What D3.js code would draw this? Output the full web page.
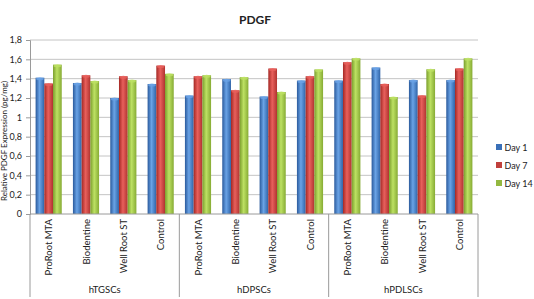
<!DOCTYPE html>
<html lang="en">
<head>
<meta charset="utf-8">
<title>PDGF</title>
<script src="https://d3js.org/d3.v7.min.js"></script>
<style>
  body { margin: 0; background: #fff; }
  text { font-family: Lato, "Open Sans", sans-serif; fill: #222; }
</style>
</head>
<body>
<script>
// data
var groups = ["hTGSCs", "hDPSCs", "hPDLSCs"];
var materials = ["ProRoot MTA", "Biodentine", "Well Root ST", "Control"];
var series = ["Day 1", "Day 7", "Day 14"];
var day1  = [1.41, 1.355, 1.20, 1.345,  1.225, 1.395, 1.215, 1.38,  1.38, 1.515, 1.385, 1.385];
var day7  = [1.35, 1.435, 1.425, 1.535, 1.425, 1.28, 1.505, 1.425,  1.57, 1.345, 1.225, 1.505];
var day14 = [1.545, 1.375, 1.385, 1.45, 1.435, 1.415, 1.262, 1.495, 1.61, 1.21, 1.497, 1.61];
var yTicks = [0, 0.2, 0.4, 0.6, 0.8, 1, 1.2, 1.4, 1.6, 1.8];

var W = 534, H = 299;
var pLeft = 30, pRight = 478, pTop = 40, pBottom = 214;

var svg = d3.select("body").append("svg")
  .attr("width", W).attr("height", H);

var cats = [];
groups.forEach(function(g) {
  materials.forEach(function(m) { cats.push(g + "|" + m); });
});
var rows = cats.map(function(c, i) {
  return { cat: c, vals: [day1[i], day7[i], day14[i]] };
});

var x0 = d3.scaleBand().domain(cats).range([pLeft, pRight]).paddingInner(0.3).paddingOuter(0.15);
var x1 = d3.scaleBand().domain(series).range([0, x0.bandwidth()]);
var y = d3.scaleLinear().domain([0, 1.8]).range([pBottom, pTop]);

// gradients for the cylinder-ish look
var colors = [
  ["#2a5a9c", "#6aa3e6", "#2f64a8"],
  ["#a42824", "#e8605c", "#b03330"],
  ["#7a9e2c", "#bde163", "#86ab34"]
];
var defs = svg.append("defs");
colors.forEach(function(c, i) {
  var g = defs.append("linearGradient").attr("id", "g" + i)
    .attr("x1", "0%").attr("x2", "100%").attr("y1", "0%").attr("y2", "0%");
  g.append("stop").attr("offset", "0%").attr("stop-color", c[0]);
  g.append("stop").attr("offset", "45%").attr("stop-color", c[1]);
  g.append("stop").attr("offset", "100%").attr("stop-color", c[2]);
});

// gridlines
svg.append("g")
  .selectAll("line").data(yTicks.slice(1)).enter().append("line")
  .attr("x1", pLeft).attr("x2", pRight)
  .attr("y1", function(d) { return y(d); }).attr("y2", function(d) { return y(d); })
  .attr("stroke", "#c4c4c4").attr("stroke-width", 1);

// y axis
var yAxis = svg.append("g")
  .attr("transform", "translate(" + pLeft + ",0)")
  .call(d3.axisLeft(y).tickValues(yTicks).tickSize(4).tickPadding(4)
    .tickFormat(function(d) { return String(d).replace(".", ","); }));
yAxis.select(".domain").attr("stroke", "#9a9a9a");
yAxis.selectAll(".tick line").attr("stroke", "#9a9a9a");
yAxis.selectAll("text").style("font-size", "9px").attr("fill", "#333");

svg.append("text")
  .attr("transform", "translate(6.5,141) rotate(-90)")
  .attr("text-anchor", "middle")
  .style("font-size", "8px")
  .text("Relative PDGF Expression (pg/mg)");

// bars
var bars = svg.append("g").selectAll("g").data(rows).enter().append("g")
  .attr("transform", function(d) { return "translate(" + x0(d.cat) + ",0)"; });
bars.selectAll("rect").data(function(d) { return d.vals; }).enter().append("rect")
  .attr("x", function(d, i) { return x1(series[i]); })
  .attr("y", function(d) { return y(d); })
  .attr("width", x1.bandwidth())
  .attr("height", function(d) { return y(0) - y(d); })
  .attr("fill", function(d, i) { return "url(#g" + i + ")"; });
// light caps on top
bars.selectAll("ellipse").data(function(d) { return d.vals; }).enter().append("ellipse")
  .attr("cx", function(d, i) { return x1(series[i]) + x1.bandwidth() / 2; })
  .attr("cy", function(d) { return y(d) + 1; })
  .attr("rx", x1.bandwidth() / 2 - 0.5).attr("ry", 1.5)
  .attr("fill", function(d, i) { return colors[i][1]; }).attr("opacity", 0.8);

// x axis
svg.append("line").attr("x1", pLeft).attr("x2", pRight)
  .attr("y1", pBottom).attr("y2", pBottom).attr("stroke", "#9a9a9a");

var step = (pRight - pLeft) / cats.length;
var xCat = d3.scalePoint().domain(cats).range([pLeft + step / 2, pRight - step / 2]);
svg.append("g").selectAll("text").data(cats).enter().append("text")
  .attr("transform", function(d) { return "translate(" + (xCat(d) + 3.5) + "," + (pBottom + 5) + ") rotate(-90)"; })
  .attr("text-anchor", "end")
  .style("font-size", "9.5px")
  .text(function(d) { return d.split("|")[1]; });

var xGroup = d3.scaleBand().domain(groups).range([pLeft, pRight]);
svg.append("g").selectAll("line").data(groups.concat(["end"])).enter().append("line")
  .attr("x1", function(d, i) { return pLeft + i * xGroup.bandwidth(); })
  .attr("x2", function(d, i) { return pLeft + i * xGroup.bandwidth(); })
  .attr("y1", pBottom).attr("y2", H - 2)
  .attr("stroke", "#9a9a9a");
svg.append("g").selectAll("text").data(groups).enter().append("text")
  .attr("x", function(d) { return xGroup(d) + xGroup.bandwidth() / 2; })
  .attr("y", 293)
  .attr("text-anchor", "middle")
  .style("font-size", "9.5px")
  .text(function(d) { return d; });

// title
svg.append("text").attr("x", 255).attr("y", 24)
  .attr("text-anchor", "middle")
  .style("font-size", "12px").style("font-weight", "bold")
  .text("PDGF");

// legend
var legendFill = ["#3a70b8", "#c0403c", "#93b840"];
var lg = svg.append("g").selectAll("g").data(series).enter().append("g")
  .attr("transform", function(d, i) { return "translate(496," + (147 + i * 18) + ")"; });
lg.append("rect").attr("x", 0).attr("y", -3).attr("width", 6).attr("height", 6)
  .attr("fill", function(d, i) { return legendFill[i]; });
lg.append("text").attr("x", 8.5).attr("y", 3.5)
  .style("font-size", "9px")
  .text(function(d) { return d; });
</script>
</body>
</html>
